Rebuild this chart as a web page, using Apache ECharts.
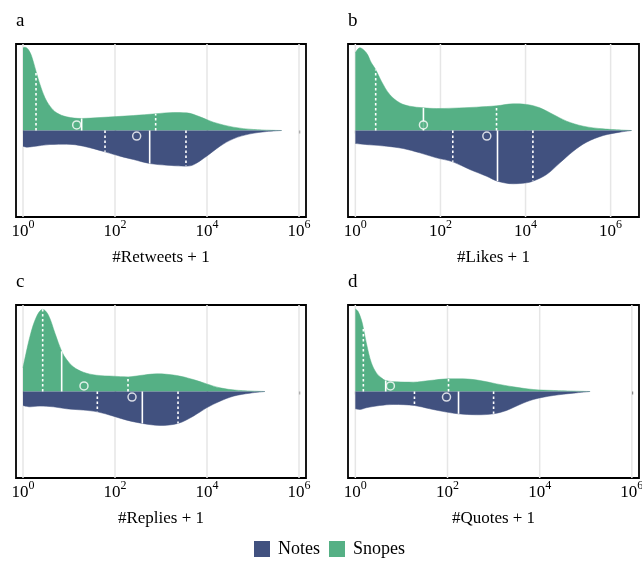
<!DOCTYPE html>
<html>
<head>
<meta charset="utf-8">
<script src="https://cdn.jsdelivr.net/npm/echarts@6/dist/echarts.min.js"></script>
<style>html,body{margin:0;padding:0;background:#fff;}#chart{width:642px;height:561px;}</style>
</head>
<body>
<div id="chart"></div>
<script>
// x values are log10(count + 1); densities scaled to half the panel height
const panelLetters = ['a', 'b', 'c', 'd'];
const axisNames = ['#Retweets + 1', '#Likes + 1', '#Replies + 1', '#Quotes + 1'];
const tickExponents = [0, 2, 4, 6];
const seriesNames = ['Notes', 'Snopes'];

const snopesA = [[0,0.956],[0.043,0.963],[0.116,0.936],[0.188,0.859],[0.283,0.686],[0.37,0.532],[0.478,0.378],[0.587,0.281],[0.732,0.204],[0.949,0.158],[1.275,0.139],[1.674,0.15],[2.4,0.173],[2.884,0.193],[3.268,0.208],[3.558,0.204],[3.848,0.158],[4.138,0.096],[4.572,0.039],[5.007,0.012],[5.623,0]];
const notesA = [[0,0.181],[0.08,0.193],[0.225,0.185],[0.587,0.162],[0.949,0.158],[1.312,0.181],[1.783,0.247],[2.109,0.297],[2.399,0.335],[2.754,0.382],[3.123,0.401],[3.543,0.412],[3.703,0.397],[3.993,0.297],[4.283,0.181],[4.572,0.096],[4.935,0.039],[5.297,0.012],[5.623,0]];
const snopesB = [[0,0.898],[0.102,0.956],[0.259,0.898],[0.376,0.783],[0.478,0.705],[0.612,0.57],[0.808,0.416],[1.043,0.32],[1.278,0.281],[1.6,0.262],[1.906,0.254],[2.298,0.258],[2.847,0.27],[3.318,0.285],[3.71,0.308],[4.024,0.301],[4.337,0.262],[4.651,0.185],[4.965,0.108],[5.357,0.05],[5.827,0.019],[6.494,0]];
const notesB = [[0,0.15],[0.337,0.166],[0.729,0.181],[1.122,0.208],[1.514,0.258],[1.906,0.316],[2.29,0.362],[2.69,0.451],[3.082,0.528],[3.341,0.586],[3.71,0.616],[4.024,0.605],[4.173,0.586],[4.494,0.509],[4.808,0.374],[5.122,0.239],[5.435,0.135],[5.827,0.058],[6.22,0.019],[6.494,0]];
const snopesC = [[0,0.273],[0.152,0.638],[0.297,0.869],[0.428,0.95],[0.551,0.885],[0.696,0.673],[0.841,0.465],[0.949,0.369],[1.094,0.285],[1.312,0.223],[1.601,0.188],[1.964,0.177],[2.283,0.169],[2.543,0.185],[2.906,0.204],[3.341,0.185],[3.703,0.138],[3.993,0.088],[4.283,0.042],[4.645,0.015],[5.261,0]];
const notesC = [[0,0.162],[0.152,0.177],[0.369,0.169],[0.659,0.177],[0.949,0.2],[1.312,0.215],[1.616,0.235],[1.964,0.285],[2.254,0.331],[2.594,0.369],[2.978,0.392],[3.37,0.369],[3.703,0.285],[3.993,0.188],[4.283,0.112],[4.572,0.054],[4.935,0.019],[5.261,0]];
const snopesD = [[0,0.954],[0.058,0.927],[0.13,0.831],[0.174,0.735],[0.239,0.562],[0.348,0.331],[0.457,0.215],[0.565,0.158],[0.659,0.127],[0.891,0.112],[1.254,0.108],[1.616,0.127],[2.022,0.146],[2.341,0.146],[2.703,0.127],[3.065,0.088],[3.428,0.054],[3.862,0.023],[4.297,0.012],[5.094,0]];
const notesD = [[0,0.2],[0.094,0.208],[0.239,0.188],[0.529,0.162],[0.819,0.15],[1.283,0.162],[1.616,0.2],[1.978,0.238],[2.239,0.258],[2.63,0.269],[3.0,0.258],[3.283,0.219],[3.572,0.15],[3.862,0.092],[4.297,0.046],[4.732,0.019],[5.094,0]];

// quartiles [Q1, median, Q3] as [x, density at x]
const snopesQuartA = [[0.283,0.686],[1.275,0.139],[2.884,0.193]];
const notesQuartA = [[1.783,0.247],[2.754,0.382],[3.543,0.412]];
const snopesQuartB = [[0.478,0.705],[1.6,0.262],[3.318,0.285]];
const notesQuartB = [[2.29,0.362],[3.341,0.586],[4.173,0.586]];
const snopesQuartC = [[0.428,0.95],[0.841,0.465],[2.283,0.169]];
const notesQuartC = [[1.616,0.235],[2.594,0.369],[3.37,0.369]];
const snopesQuartD = [[0.174,0.735],[0.659,0.127],[2.022,0.146]];
const notesQuartD = [[1.283,0.162],[2.239,0.258],[3.0,0.258]];

// means [Snopes, Notes]
const meansA = [1.167, 2.471];
const meansB = [1.6, 3.09];
const meansC = [1.326, 2.37];
const meansD = [0.761, 1.978];

const snopesAll = [snopesA, snopesB, snopesC, snopesD];
const notesAll = [notesA, notesB, notesC, notesD];
const snopesQuartAll = [snopesQuartA, snopesQuartB, snopesQuartC, snopesQuartD];
const notesQuartAll = [notesQuartA, notesQuartB, notesQuartC, notesQuartD];
const meansAll = [meansA, meansB, meansC, meansD];

// layout
const FONT = 'Liberation Serif, Times New Roman, serif';
const GREEN = '#55b085';
const BLUE = '#41517f';
const gridBoxes = [
  {left: 16, top: 44, width: 290, height: 173},
  {left: 348, top: 44, width: 291, height: 173},
  {left: 16, top: 305, width: 290, height: 173},
  {left: 348, top: 305, width: 291, height: 173}
];
const xRanges = [[-0.152, 6.152], [-0.173, 6.667], [-0.152, 6.152], [-0.159, 6.155]];
const letterPos = [[16, 12], [348, 12], [16, 273], [348, 273]];
const meanOffset = 0.065;

const grids = [], xAxes = [], yAxes = [], series = [], titles = [];

function ruleItem(params, api) {
  const p0 = api.coord([api.value(0), api.value(1)]);
  const p1 = api.coord([api.value(0), api.value(2)]);
  const kind = api.value(3);
  let style;
  if (kind === 0) style = {stroke: '#e6e6e6', lineWidth: 1.5};
  else if (kind === 1) style = {stroke: '#ffffff', lineWidth: 1.6, lineDash: [2.5, 2.5]};
  else style = {stroke: '#ffffff', lineWidth: 1.6};
  return {type: 'line', shape: {x1: p0[0], y1: p0[1], x2: p1[0], y2: p1[1]}, style: style};
}

for (let i = 0; i < 4; i++) {
  grids.push(Object.assign({show: true, borderColor: '#000', borderWidth: 1.8, backgroundColor: 'transparent',
    containLabel: false, outerBoundsMode: 'none'}, gridBoxes[i]));
  xAxes.push({
    type: 'value', gridIndex: i, min: xRanges[i][0], max: xRanges[i][1],
    axisLine: {show: false},
    axisTick: {show: true, length: 3, lineStyle: {color: '#000', width: 1.2}, customValues: tickExponents},
    axisLabel: {
      customValues: tickExponents, margin: 5, color: '#000', hideOverlap: false,
      formatter: v => '{b|10}{s|' + v + '}',
      rich: {
        b: {fontSize: 17, fontFamily: FONT, color: '#000', lineHeight: 18, verticalAlign: 'bottom'},
        s: {fontSize: 12, fontFamily: FONT, color: '#000', lineHeight: 12, verticalAlign: 'bottom', padding: [0, 0, 9, 0]}
      }
    },
    splitLine: {show: false},
    name: axisNames[i], nameLocation: 'middle', nameGap: 32,
    nameTextStyle: {fontSize: 17, fontFamily: FONT, color: '#000'}
  });
  yAxes.push({type: 'value', gridIndex: i, min: -1, max: 1, show: false});
  titles.push({text: panelLetters[i], left: letterPos[i][0], top: letterPos[i][1], padding: 0,
    textStyle: {fontSize: 19, fontWeight: 'normal', fontFamily: FONT, color: '#000'}});

  // gridlines
  series.push({
    type: 'custom', xAxisIndex: i, yAxisIndex: i, z: 1, silent: true,
    renderItem: ruleItem, encode: {x: 0, y: [1, 2]},
    data: tickExponents.map(v => [v, -1, 1, 0])
  });
  // Snopes (upper half)
  series.push({
    name: 'Snopes', type: 'line', xAxisIndex: i, yAxisIndex: i, z: 2,
    data: snopesAll[i], smooth: 0.35, showSymbol: false, symbol: 'none',
    lineStyle: {width: 0.5, color: GREEN}, itemStyle: {color: GREEN},
    areaStyle: {color: GREEN, opacity: 1}
  });
  // Notes (lower half)
  series.push({
    name: 'Notes', type: 'line', xAxisIndex: i, yAxisIndex: i, z: 2,
    data: notesAll[i].map(p => [p[0], -p[1]]), smooth: 0.35, showSymbol: false, symbol: 'none',
    lineStyle: {width: 0.5, color: BLUE}, itemStyle: {color: BLUE},
    areaStyle: {color: BLUE, opacity: 1}
  });
  // quartile and median lines
  const rules = [];
  snopesQuartAll[i].forEach((q, k) => rules.push([q[0], 0, q[1], k === 1 ? 2 : 1]));
  notesQuartAll[i].forEach((q, k) => rules.push([q[0], 0, -q[1], k === 1 ? 2 : 1]));
  series.push({
    type: 'custom', xAxisIndex: i, yAxisIndex: i, z: 3, silent: true,
    renderItem: ruleItem, encode: {x: 0, y: [1, 2]}, data: rules
  });
  // means
  series.push({
    type: 'scatter', xAxisIndex: i, yAxisIndex: i, z: 4, silent: true,
    symbol: 'circle', symbolSize: 8,
    data: [
      {value: [meansAll[i][0], meanOffset], itemStyle: {color: GREEN, borderColor: '#fff', borderWidth: 1.5}},
      {value: [meansAll[i][1], -meanOffset], itemStyle: {color: BLUE, borderColor: '#fff', borderWidth: 1.5}}
    ]
  });
}

const chart = echarts.init(document.getElementById('chart'), null, {renderer: 'canvas'});
chart.setOption({
  animation: false,
  backgroundColor: '#fff',
  title: titles,
  grid: grids,
  xAxis: xAxes,
  yAxis: yAxes,
  legend: {
    data: seriesNames, left: 254, top: 540, padding: 0, itemWidth: 16, itemHeight: 16, itemGap: 9,
    icon: 'rect', selectedMode: false,
    textStyle: {fontSize: 18, fontFamily: FONT, color: '#000', padding: [0, 0, 0, 3]}
  },
  series: series
});
</script>
</body>
</html>
